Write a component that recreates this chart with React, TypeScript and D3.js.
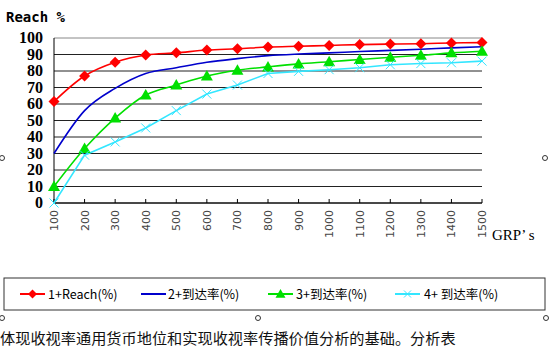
import React from "react";
import * as d3 from "d3";

const grps = [100, 200, 300, 400, 500, 600, 700, 800, 900, 1000, 1100, 1200, 1300, 1400, 1500];
const reach1 = [61.5, 77, 85.3, 89.7, 91, 92.7, 93.5, 94.5, 95, 95.5, 96, 96.3, 96.5, 97, 97.2];
const reach2 = [30, 56, 69.5, 78.5, 82, 85.3, 87.5, 89.3, 90.3, 91, 91.8, 92.5, 93.2, 94, 94.7];
const reach3 = [10, 33, 51.5, 65.5, 71.5, 77, 80.5, 82.5, 84.3, 85.6, 87, 88.3, 89.5, 91, 92];
const reach4 = [0, 29, 37, 45.5, 56, 66, 71.5, 78.5, 79.8, 80.8, 82, 83.8, 84.5, 85, 86];
const yTicks = [0, 10, 20, 30, 40, 50, 60, 70, 80, 90, 100];
const legendLabels = ["1+Reach(%)", "2+到达率(%)", "3+到达率(%)", "4+ 到达率(%)"];
const caption = "体现收视率通用货币地位和实现收视率传播价值分析的基础。分析表";

const colors = ["#ff0000", "#0000cc", "#00e000", "#33e6ff"];
const series = [reach1, reach2, reach3, reach4];

const W = 550, H = 357;
const left = 54, right = 482, top = 38, bottom = 203;

export default function App() {
  const x = d3.scalePoint<number>().domain(grps).range([left, right]);
  const y = d3.scaleLinear().domain([0, 100]).range([bottom, top]);
  const curves = [d3.curveCatmullRom.alpha(0.5), d3.curveMonotoneX, d3.curveCatmullRom.alpha(0.5), d3.curveLinear];
  const line = (vals: number[], k: number) =>
    d3.line<number>()
      .x((_, i) => x(grps[i]) as number)
      .y((v) => y(v))
      .curve(curves[k])(vals) || "";

  const diamond = (cx: number, cy: number, r: number) =>
    `M${cx},${cy - r}L${cx + r},${cy}L${cx},${cy + r}L${cx - r},${cy}Z`;
  const tri = (cx: number, cy: number, r: number) =>
    `M${cx},${cy - r}L${cx + r},${cy + r * 0.75}L${cx - r},${cy + r * 0.75}Z`;
  const cross = (cx: number, cy: number, r: number) =>
    `M${cx - r},${cy - r}L${cx + r},${cy + r}M${cx - r},${cy + r}L${cx + r},${cy - r}`;

  const marker = (k: number, cx: number, cy: number, key: string, r = 5) => {
    if (k === 0) return <path key={key} d={diamond(cx, cy, r)} fill={colors[0]} />;
    if (k === 2) return <path key={key} d={tri(cx, cy, r)} fill={colors[2]} />;
    if (k === 3) return <path key={key} d={cross(cx, cy, r - 1)} stroke={colors[3]} strokeWidth={1} fill="none" />;
    return null;
  };

  const legendX = [20, 141, 268, 395];
  const legendTextX = [48, 168, 296, 424];
  const legendY = 294;

  return (
    <svg width={W} height={H} style={{ position: "absolute", left: 0, top: 0, background: "#fff" }}>
      <rect width={W} height={H} fill="#fff" />
      <text x={6} y={22} fontFamily="DejaVu Sans Mono" fontWeight="bold" fontSize={14} fill="#000">Reach %</text>
      {yTicks.map((t) => (
        <line key={t} x1={left} x2={right} y1={y(t)} y2={y(t)} stroke={t === 100 ? "#888" : "#222"} strokeWidth={1} />
      ))}
      <line x1={left} x2={left} y1={top} y2={bottom} stroke="#000" strokeWidth={1} />
      <line x1={left} x2={right} y1={bottom} y2={bottom} stroke="#000" strokeWidth={1} />
      {yTicks.map((t) => (
        <text key={t} x={43} y={y(t) + 5} textAnchor="end" fontFamily="Liberation Serif" fontWeight="bold" fontSize={16} fill="#000">{t}</text>
      ))}
      {grps.map((g) => (
        <g key={g}>
          <line x1={x(g)} x2={x(g)} y1={bottom} y2={bottom - 4} stroke="#000" />
          <text transform={`translate(${(x(g) as number) + 4},${bottom + 7}) rotate(-90)`} textAnchor="end" fontFamily="DejaVu Sans" fontSize={11} fill="#444">{g}</text>
        </g>
      ))}
      <text x={492} y={240} fontFamily="Liberation Serif" fontSize={15} fill="#000">GRP’ s</text>
      {series.map((s, k) => (
        <path key={k} d={line(s, k)} fill="none" stroke={colors[k]} strokeWidth={1.6} />
      ))}
      {series.map((s, k) => s.map((v, i) => marker(k, x(grps[i]) as number, y(v), `${k}-${i}`, k === 2 ? 6 : 5.5)))}
      <rect x={4} y={278} width={541} height={32} fill="#fff" stroke="#333" strokeWidth={1} />
      {legendLabels.map((lab, k) => (
        <g key={lab}>
          <line x1={legendX[k]} x2={legendX[k] + 25} y1={legendY} y2={legendY} stroke={colors[k]} strokeWidth={2} />
          {marker(k, legendX[k] + 12.5, legendY, `lg${k}`, k === 2 ? 5 : 4.5)}
          <text x={legendTextX[k]} y={legendY + 5} fontFamily="Noto Sans CJK SC" fontSize={12.5} fill="#000">{lab}</text>
        </g>
      ))}
      {[[2, 318], [258, 318], [546, 318], [2, 158], [545, 158]].map(([cx, cy], i) => (
        <circle key={i} cx={cx} cy={cy} r={2.5} fill="#fff" stroke="#333" strokeWidth={1} />
      ))}
      <text x={0} y={344} fontFamily="Noto Sans CJK SC" fontSize={15.2} fill="#111">{caption}</text>
    </svg>
  );
}
